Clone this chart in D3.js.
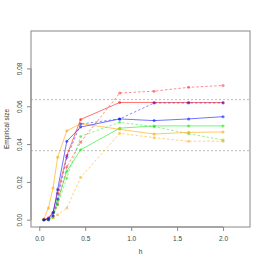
<!DOCTYPE html>
<html>
<head>
<meta charset="utf-8">
<script src="https://cdn.jsdelivr.net/npm/d3@7"></script>
<style>
  body { margin: 0; background: #fff; }
  svg { display: block; font-family: "Liberation Sans", Arial, sans-serif; }
</style>
</head>
<body>
<div id="chart"></div>
<script>
// bandwidths on the x axis
const h = [0.05, 0.1, 0.15, 0.2, 0.3, 0.45, 0.875, 1.25, 1.625, 2.0];

// empirical size per method (solid / dashed pairs)
const redSolid     = [0.000, 0.001, 0.004, 0.014, 0.034, 0.053, 0.062, 0.062, 0.062, 0.062];
const redDashed    = [0.000, 0.000, 0.002, 0.008, 0.028, 0.041, 0.067, 0.068, 0.070, 0.071];
const blueSolid    = [0.000, 0.0005, 0.0035, 0.016, 0.0415, 0.049, 0.0533, 0.0524, 0.0533, 0.0545];
const blueDashed   = [0.000, 0.000, 0.002, 0.011, 0.033, 0.0506, 0.0533, 0.0617, 0.0617, 0.0617];
const greenSolid   = [0.000, 0.000, 0.002, 0.010, 0.0256, 0.037, 0.0484, 0.0496, 0.0496, 0.0496];
const greenDashed  = [0.000, 0.000, 0.001, 0.008, 0.022, 0.044, 0.0515, 0.0492, 0.0455, 0.0422];
const orangeSolid  = [0.0004, 0.0062, 0.0168, 0.033, 0.047, 0.0508, 0.0478, 0.0453, 0.0462, 0.0464];
const orangeDashed = [0.000, 0.000, 0.001, 0.0026, 0.0062, 0.0224, 0.0457, 0.0434, 0.0415, 0.0415];

// reference band around nominal 5%
const refLines = [0.0365, 0.0635];

const xTicks = [0, 0.5, 1, 1.5, 2];
const yTicks = [0, 0.02, 0.04, 0.06, 0.08];

const series = [
  { values: redDashed,    color: "rgba(255,0,0,0.45)",   dashed: true },
  { values: redSolid,     color: "rgba(255,0,0,0.55)",   dashed: false },
  { values: greenDashed,  color: "rgba(0,235,0,0.45)",   dashed: true },
  { values: greenSolid,   color: "rgba(0,235,0,0.55)",   dashed: false },
  { values: orangeDashed, color: "rgba(255,165,0,0.5)",  dashed: true },
  { values: orangeSolid,  color: "rgba(255,165,0,0.6)",  dashed: false },
  { values: blueDashed,   color: "rgba(0,0,255,0.45)",   dashed: true },
  { values: blueSolid,    color: "rgba(0,0,255,0.55)",   dashed: false }
];

const W = 266, H = 266;
const plot = { left: 31, right: 250, top: 31, bottom: 227 };

const svg = d3.select("#chart").append("svg")
  .attr("width", W)
  .attr("height", H);

const x = d3.scaleLinear().domain([-0.09, 2.293]).range([plot.left, plot.right]);
const y = d3.scaleLinear().domain([-0.00386, 0.0998]).range([plot.bottom, plot.top]);

// reference lines
svg.selectAll(".ref")
  .data(refLines)
  .enter().append("line")
  .attr("x1", plot.left).attr("x2", plot.right)
  .attr("y1", d => y(d)).attr("y2", d => y(d))
  .attr("stroke", "#aaa")
  .attr("stroke-width", 0.8)
  .attr("stroke-dasharray", "2,2");

const line = d3.line()
  .x((d, i) => x(h[i]))
  .y(d => y(d));

series.forEach(s => {
  svg.append("path")
    .datum(s.values)
    .attr("d", line)
    .attr("fill", "none")
    .attr("stroke", s.color)
    .attr("stroke-width", 1)
    .attr("stroke-dasharray", s.dashed ? "2.5,2" : null);

  svg.selectAll(null)
    .data(s.values)
    .enter().append("circle")
    .attr("cx", (d, i) => x(h[i]))
    .attr("cy", d => y(d))
    .attr("r", 1.5)
    .attr("fill", s.color);
});

// box
svg.append("rect")
  .attr("x", plot.left).attr("y", plot.top)
  .attr("width", plot.right - plot.left)
  .attr("height", plot.bottom - plot.top)
  .attr("fill", "none")
  .attr("stroke", "#888")
  .attr("stroke-width", 1);

// x axis
const xAxis = svg.append("g")
  .attr("transform", "translate(0," + plot.bottom + ")")
  .call(d3.axisBottom(x).tickValues(xTicks).tickFormat(d3.format(".1f")).tickSize(4).tickPadding(5));
xAxis.select(".domain").attr("d", "M" + x(0) + ",0H" + x(2)).attr("stroke", "#888");
xAxis.selectAll(".tick line").attr("stroke", "#888");
xAxis.selectAll("text").attr("fill", "#444").style("font-size", "6.5px");

// y axis
const yAxis = svg.append("g")
  .attr("transform", "translate(" + plot.left + ",0)")
  .call(d3.axisLeft(y).tickValues(yTicks).tickFormat(d3.format(".2f")).tickSize(4));
yAxis.select(".domain").attr("d", "M0," + y(0) + "V" + y(0.08)).attr("stroke", "#888");
yAxis.selectAll(".tick line").attr("stroke", "#888");
yAxis.selectAll("text")
  .attr("fill", "#444")
  .style("font-size", "6.5px")
  .attr("x", 0).attr("dy", 0)
  .attr("text-anchor", "middle")
  .attr("transform", "translate(-9.5,0) rotate(-90)");

// axis titles
svg.append("text")
  .attr("x", (plot.left + plot.right) / 2)
  .attr("y", 254)
  .attr("text-anchor", "middle")
  .attr("fill", "#333")
  .style("font-size", "6.5px")
  .text("h");

svg.append("text")
  .attr("transform", "translate(9," + ((plot.top + plot.bottom) / 2) + ") rotate(-90)")
  .attr("text-anchor", "middle")
  .attr("fill", "#333")
  .style("font-size", "6.5px")
  .text("Empirical size");
</script>
</body>
</html>
